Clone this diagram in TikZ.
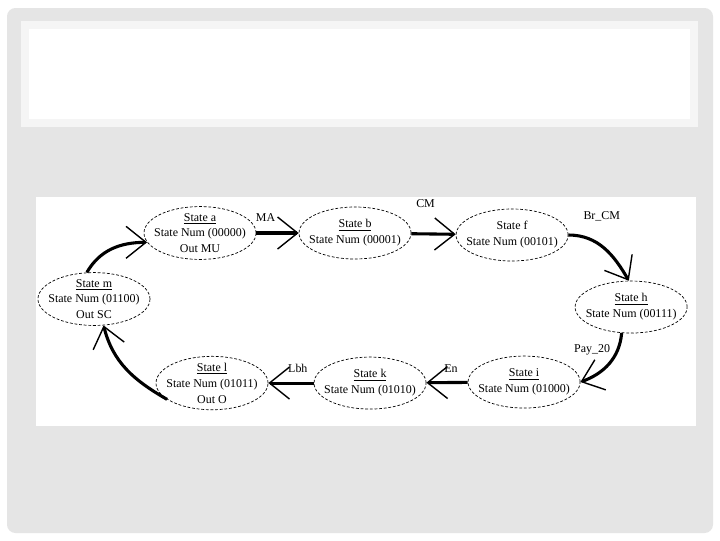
\documentclass[tikz,border=0pt]{standalone}
\usepackage{fontspec}
\setmainfont{Liberation Serif}
\usetikzlibrary{shapes.geometric, arrows.meta, positioning}
\definecolor{slidegray}{RGB}{229,229,229}
\definecolor{titleband}{RGB}{245,245,245}

\begin{document}
\begin{tikzpicture}[x=0.025cm, y=-0.025cm,
    state/.style={draw, ellipse, line width=0.5pt, dash pattern=on 2pt off 1.3pt, minimum width=2.8cm, minimum height=1.3cm, inner xsep=-0.16cm, inner ysep=-0.03cm, align=center, font=\fontsize{8.5}{11.3}\selectfont},
    flow/.style={line width=2.2pt, -{Straight Barb[length=5mm, width=8mm, line width=1pt]}},
    lbl/.style={font=\fontsize{8.5}{10}\selectfont}]

        % slide
        \useasboundingbox (0,0) rectangle (720,540);
        \fill[white] (0,0) rectangle (720,540);
        \fill[slidegray, rounded corners=6pt] (7,8) rectangle (713,533);
        \fill[titleband] (21,21) rectangle (698,127);
        \fill[white] (29,29) rectangle (690,119);
        \fill[white] (36,197) rectangle (696,426);

        \node[state] (a) at (200,233) {\underline{State a}\\State Num (00000)\\Out MU};
        \node[state] (b) at ([xshift=3.875cm]a.center) {\underline{State b}\\State Num (00001)};
        \node[state] (f) at ([xshift=3.925cm, yshift=-0.05cm]b.center) {State f\\State Num (00101)};
        \node[state] (h) at ([xshift=2.975cm, yshift=-1.8cm]f.center) {\underline{State h}\\State Num (00111)};
        \node[state] (i) at ([xshift=-2.675cm, yshift=-1.875cm]h.center) {\underline{State i}\\State Num (01000)};
        \node[state] (k) at ([xshift=-3.85cm, yshift=-0.025cm]i.center) {\underline{State k}\\State Num (01010)};
        \node[state] (l) at ([xshift=-3.95cm]k.center) {\underline{State l}\\State Num (01011)\\Out O};
        \node[state] (m) at ([xshift=-2.95cm, yshift=2.1cm]l.center) {\underline{State m}\\State Num (01100)\\Out SC};



        \draw [flow] (a) -- (b) node[midway, above=4pt, xshift=-0.3cm, lbl] {MA};
        \draw [flow] (b) -- (f) node[midway, above=14pt, xshift=-0.2cm, lbl] {CM};

        \draw [flow] (f.east) to[out=0, in=120] node[pos=0.3, above=9pt, xshift=0.25cm, lbl] {Br\_CM} (h.95);
        \draw [flow] (h.250) to[out=-95, in=20] node[pos=0.25, left=1pt, lbl] {Pay\_20} (i.east);

        \draw [flow] (i) -- (k) node[midway, above=3pt, xshift=0.1cm, lbl] {En};
        \draw [flow] (k) -- (l) node[midway, above=3pt, xshift=0.17cm, lbl] {Lbh};

        \draw [flow] (l.200) to[out=150, in=-76] (m.290);
        \draw [flow] (m.105) to[out=60, in=180] (a.190);

    \end{tikzpicture}
\end{document}
